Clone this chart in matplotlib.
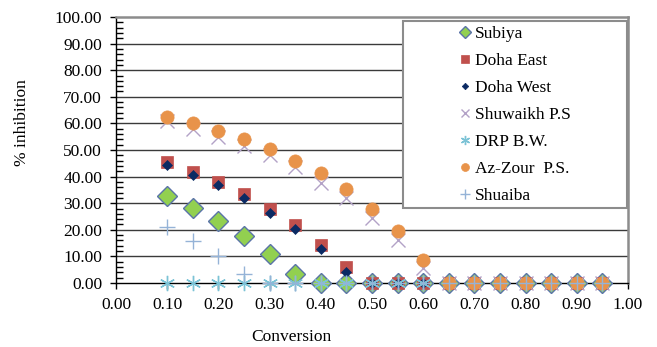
import matplotlib
matplotlib.use("Agg")
import matplotlib.pyplot as plt
from matplotlib.patches import Rectangle
from matplotlib.ticker import MultipleLocator, FormatStrFormatter

plt.rcParams['font.family'] = ['Liberation Serif', 'DejaVu Serif']

conversion = [0.10, 0.15, 0.20, 0.25, 0.30, 0.35, 0.40, 0.45, 0.50,
              0.55, 0.60, 0.65, 0.70, 0.75, 0.80, 0.85, 0.90, 0.95]

subiya = [32.8, 28.3, 23.2, 17.7, 10.9, 3.3, 0, 0, 0, 0, 0, 0, 0, 0, 0, 0, 0, 0]
doha_east = [45.4, 41.8, 37.8, 33.3, 27.8, 21.7, 14.3, 6.1, 0, 0, 0, 0, 0, 0, 0, 0, 0, 0]
doha_west = [44.4, 40.6, 36.7, 31.8, 26.2, 20.2, 12.8, 4.0, 0, 0, 0, 0, 0, 0, 0, 0, 0, 0]
shuwaikh = [61.0, 58.0, 55.0, 51.6, 48.1, 43.7, 37.7, 31.8, 24.6, 16.2, 5.5, 0, 0, 0, 0, 0, 0, 0]
drp_bw = [0, 0, 0, 0, 0, 0, 0, 0, 0, 0, 0, 0, 0, 0, 0, 0, 0, 0]
az_zour = [62.5, 60.0, 57.1, 54.1, 50.3, 45.9, 41.2, 35.3, 27.8, 19.7, 8.6, 0, 0, 0, 0, 0, 0, 0]
shuaiba = [21.2, 15.8, 10.2, 3.4, 0, 0, 0, 0, 0, 0, 0, 0, 0, 0, 0, 0, 0, 0]

W, H = 657, 347
fig = plt.figure(figsize=(W / 100, H / 100), dpi=100)
ax = fig.add_axes([116 / W, 1 - 283 / H, (628 - 116) / W, (283 - 17) / H])

fs = 12.5

series = [
    ("Subiya", subiya, dict(marker="D", ms=10, mfc="#92D050", mec="#5A74A8", mew=1.0)),
    ("Doha East", doha_east, dict(marker="s", ms=8.5, mfc="#C0504D", mec="#C0504D", mew=0.5)),
    ("Doha West", doha_west, dict(marker="D", ms=5.5, mfc="#0B2A63", mec="#0B2A63", mew=0.5)),
    ("Shuwaikh P.S", shuwaikh, dict(marker="x", ms=10, mec="#B3A2C7", mew=1.0)),
    ("DRP B.W.", drp_bw, dict(marker=(6, 2, 0), ms=11, mec="#7CC3D6", mew=1.0)),
    ("Az-Zour  P.S.", az_zour, dict(marker="o", ms=9.5, mfc="#E8934A", mec="#E8934A", mew=0.5)),
    ("Shuaiba", shuaiba, dict(marker="+", ms=11, mec="#95B3D7", mew=1.0)),
]

handles = []
for i, (name, vals, style) in enumerate(series):
    h, = ax.plot(conversion, vals, linestyle="none", label=name,
                 clip_on=False, zorder=3 + i, **style)
    handles.append(h)

ax.set_xlim(0, 1)
ax.set_ylim(0, 100)
ax.xaxis.set_major_locator(MultipleLocator(0.1))
ax.xaxis.set_major_formatter(FormatStrFormatter("%.2f"))
ax.yaxis.set_major_locator(MultipleLocator(10))
ax.yaxis.set_minor_locator(MultipleLocator(2))
ax.yaxis.set_major_formatter(FormatStrFormatter("%.2f"))

ax.tick_params(axis="x", which="major", direction="out", length=4, width=1,
               pad=6, labelsize=fs, colors="black")
ax.tick_params(axis="y", which="major", direction="out", length=4, width=1,
               pad=6, labelsize=fs)
ax.tick_params(axis="y", which="minor", direction="in", length=5, width=1)

# horizontal gridlines
for yv in range(10, 100, 10):
    ax.axhline(yv, color="#3a3a3a", lw=1.0, zorder=1)

for side in ("left", "bottom"):
    ax.spines[side].set_color("black")
    ax.spines[side].set_linewidth(1.0)
for side in ("top", "right"):
    ax.spines[side].set_color("#8c8c8c")
    ax.spines[side].set_linewidth(1.8)

fig.text(22 / W, 1 - 123 / H, "% inhibition", rotation=90, ha="center",
         va="center", fontsize=fs)
fig.text(291 / W, 1 - 337 / H, "Conversion", ha="center", va="center",
         fontsize=fs)

# legend box
box = Rectangle((403 / W, 1 - 208 / H), (627 - 403) / W, (208 - 21) / H,
                transform=fig.transFigure, facecolor="white",
                edgecolor="#8c8c8c", lw=1.5, zorder=20)
fig.patches.append(box)

leg = fig.legend(handles=handles, loc="upper left",
                 bbox_to_anchor=(459 / W, 1 - 26 / H),
                 frameon=False, fontsize=fs, markerscale=0.6, numpoints=1,
                 handlelength=0.7, handletextpad=0.2, labelspacing=0.62,
                 borderpad=0, borderaxespad=0)
leg.set_zorder(21)

fig.savefig("out.png", dpi=100)
